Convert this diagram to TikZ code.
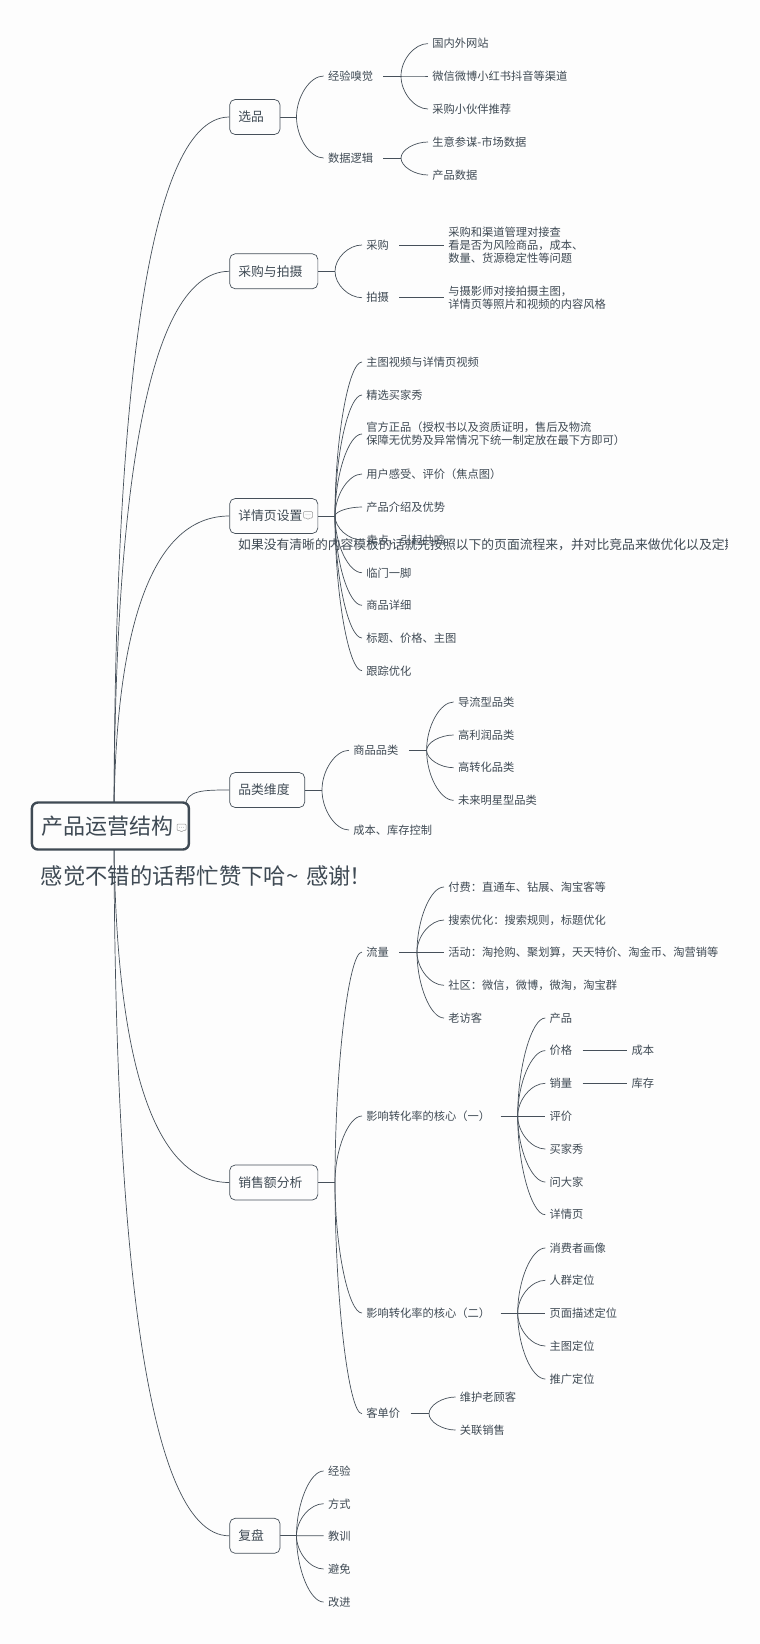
\documentclass[tikz,border=0pt]{standalone}
\usepackage{fontspec}
\setmainfont{Noto Sans CJK SC}
\usetikzlibrary{calc,backgrounds}
\definecolor{ink}{HTML}{3F4A54}
\definecolor{wire}{HTML}{46505A}
\definecolor{paper}{HTML}{FDFDFD}
\tikzset{
  conn/.style={draw=wire,line width=0.7pt},
  topic/.style={draw=wire,line width=0.7pt,fill=paper,rounded corners=5.5pt,anchor=west,
    minimum height=35pt,inner xsep=8.7pt,inner ysep=0pt,align=left,text=ink,
    font=\fontsize{12.8}{15}\selectfont},
  leaf/.style={anchor=west,inner xsep=4.2pt,inner ysep=1pt,align=left,text=ink,
    font=\fontsize{11.25}{13.2}\selectfont},
  rootbox/.style={draw=ink,line width=2.4pt,fill=paper,rounded corners=6pt,anchor=west,
    minimum height=47pt,inner xsep=10pt,inner ysep=0pt,align=left,text=ink,
    font=\fontsize{22}{26}\selectfont},
  bignote/.style={anchor=west,inner sep=0pt,text=ink,font=\fontsize{22.3}{26}\selectfont},
  midnote/.style={anchor=west,inner sep=0pt,text=ink,font=\fontsize{12.8}{15}\selectfont},
  bubble/.style={draw=black!40,line width=0.5pt,fill=paper,rounded corners=1pt}
}
\newcommand\leaf[4]{\node[leaf] (#1) at (#2,#3) {#4};}
\newcommand\kid[2]{\draw[conn] (#1) .. controls ($(#1)!.5!(#1|-#2.west)$) and ($(#2.west)!.5!(#1|-#2.west)$) .. (#2.west);}
\newcommand\limb[2]{\draw[conn] (rootpin) .. controls +(0,#2) and +(-89,0) .. (#1.west);}
\newcommand\bubbleat[2]{\draw[bubble] (#1,#2) -- ++(9,0) -- ++(0,6.5) -- ++(-3.5,0) -- ++(-1,2) -- ++(-1,-2) -- ++(-3.5,0) -- cycle;
  \fill[black!40] (#1+2.5,#2+3.2) circle (.4) (#1+4.5,#2+3.2) circle (.4) (#1+6.5,#2+3.2) circle (.4);}
\begin{document}
\begin{tikzpicture}[x=1pt,y=-1pt]
\useasboundingbox (0,0) rectangle (760,1644);

% root and topics
\node[rootbox,text width=137pt] (root) at (30.7,826) {产品运营结构};
\node[bignote] (thanks) at (40.6,876) {感觉不错的话帮忙赞下哈\char`~\hspace{3pt} 感谢\hspace{-2pt}！};
\node[topic,text width=33pt] (t1) at (229.3,117) {选品};
\node[topic,text width=70.8pt] (t2) at (229.3,271.3) {采购与拍摄};
\node[topic,text width=70.8pt] (t3) at (229.3,516) {详情页设置};
\node[topic,text width=57.7pt] (t4) at (229.3,790) {品类维度};
\node[topic,text width=70.8pt] (t5) at (229.3,1182.5) {销售额分析};
\node[topic,text width=33pt] (t6) at (229.3,1535.8) {复盘};

\coordinate (rootpin) at (114,826);
\coordinate (rootside) at (185.7,806);

% 选品
\leaf{a1}{323.6}{76}{经验嗅觉}
\leaf{a2}{323.6}{158}{数据逻辑}
\leaf{a11}{428}{43.6}{国内外网站}
\leaf{a12}{428}{76}{微信微博小红书抖音等渠道}
\leaf{a13}{428}{109}{采购小伙伴推荐}
\leaf{a21}{428}{142}{生意参谋-市场数据}
\leaf{a22}{428}{175}{产品数据}
\coordinate (ha) at (296.5,117);
\coordinate (ha1) at (401,76);
\coordinate (ha2) at (401,158);

% 采购与拍摄
\leaf{b1}{362}{245}{采购}
\leaf{b2}{362}{297.7}{拍摄}
\leaf{b11}{444}{245}{采购和渠道管理对接查\\看是否为风险商品，成本、\\数量、货源稳定性等问题}
\leaf{b21}{444}{297.7}{与摄影师对接拍摄主图，\\详情页等照片和视频的内容风格}
\coordinate (hb) at (335,271.3);

% 详情页设置
\leaf{c1}{362}{362}{主图视频与详情页视频}
\leaf{c2}{362}{395}{精选买家秀}
\leaf{c3}{362}{434}{官方正品（授权书以及资质证明，售后及物流\\保障无优势及异常情况下统一制定放在最下方即可）}
\leaf{c4}{362}{474}{用户感受、评价（焦点图）}
\leaf{c5}{362}{507}{产品介绍及优势}
\leaf{c6}{362}{540}{卖点、引起共鸣}
\leaf{c7}{362}{572.7}{临门一脚}
\leaf{c8}{362}{605.3}{商品详细}
\leaf{c9}{362}{638}{标题、价格、主图}
\leaf{c10}{362}{670.7}{跟踪优化}
\coordinate (hc) at (335,516);
\begin{scope}
  \clip (0,0) rectangle (727,1644);
  \node[midnote] (cnote) at (238,545) {如果没有清晰的内容模板的话就先按照以下的页面流程来，并对比竞品来做优化以及定期};
\end{scope}

% 品类维度
\leaf{d1}{349}{750.3}{商品品类}
\leaf{d2}{349}{830}{成本、库存控制}
\leaf{d11}{453.6}{702}{导流型品类}
\leaf{d12}{453.6}{735}{高利润品类}
\leaf{d13}{453.6}{767.7}{高转化品类}
\leaf{d14}{453.6}{800.3}{未来明星型品类}
\coordinate (hd) at (322,790);
\coordinate (hd1) at (426.6,750.3);

% 销售额分析
\leaf{e1}{362}{952}{流量}
\leaf{e2}{362}{1116}{影响转化率的核心（一）}
\leaf{e3}{362}{1313}{影响转化率的核心（二）}
\leaf{e4}{362}{1413.7}{客单价}
\leaf{e11}{444}{887}{付费：直通车、钻展、淘宝客等}
\leaf{e12}{444}{920}{搜索优化：搜索规则，标题优化}
\leaf{e13}{444}{952}{活动：淘抢购、聚划算，天天特价、淘金币、淘营销等}
\leaf{e14}{444}{985.3}{社区：微信，微博，微淘，淘宝群}
\leaf{e15}{444}{1018}{老访客}
\leaf{e21}{545.3}{1018}{产品}
\leaf{e22}{545.3}{1050.6}{价格}
\leaf{e23}{545.3}{1083.3}{销量}
\leaf{e24}{545.3}{1116}{评价}
\leaf{e25}{545.3}{1149}{买家秀}
\leaf{e26}{545.3}{1182}{问大家}
\leaf{e27}{545.3}{1214.7}{详情页}
\leaf{e221}{627.2}{1050.6}{成本}
\leaf{e231}{627.2}{1083.3}{库存}
\leaf{e31}{545.3}{1248}{消费者画像}
\leaf{e32}{545.3}{1280.3}{人群定位}
\leaf{e33}{545.3}{1313}{页面描述定位}
\leaf{e34}{545.3}{1346}{主图定位}
\leaf{e35}{545.3}{1379}{推广定位}
\leaf{e41}{455.5}{1397}{维护老顾客}
\leaf{e42}{455.5}{1430}{关联销售}
\coordinate (he) at (335,1182.5);
\coordinate (he1) at (417,952);
\coordinate (he2) at (517.7,1116);
\coordinate (he3) at (517.7,1313);
\coordinate (he4) at (429,1413.7);

% 复盘
\leaf{f1}{323.6}{1471}{经验}
\leaf{f2}{323.6}{1503.7}{方式}
\leaf{f3}{323.6}{1535.8}{教训}
\leaf{f4}{323.6}{1569}{避免}
\leaf{f5}{323.6}{1602}{改进}
\coordinate (hf) at (296.5,1535.8);

% note markers
\bubbleat{177}{824}
\bubbleat{303.5}{511.5}

\begin{scope}[on background layer]
  \fill[paper] (0,0) rectangle (760,1644);
  % main limbs
  \limb{t1}{-376}
  \limb{t2}{-294}
  \limb{t3}{-164}
  \limb{t5}{189}
  \limb{t6}{376}
  \draw[conn] (rootside) .. controls +(0,-16) and +(-25,0) .. (t4.west);
  % 选品
  \draw[conn] (t1.east) -- (ha);
  \kid{ha}{a1}\kid{ha}{a2}
  \draw[conn] ([xshift=6pt]a1.east) -- (ha1);
  \kid{ha1}{a11}\kid{ha1}{a12}\kid{ha1}{a13}
  \draw[conn] ([xshift=6pt]a2.east) -- (ha2);
  \kid{ha2}{a21}\kid{ha2}{a22}
  % 采购与拍摄
  \draw[conn] (t2.east) -- (hb);
  \kid{hb}{b1}\kid{hb}{b2}
  \draw[conn] ([xshift=6pt]b1.east) -- (b11.west);
  \draw[conn] ([xshift=6pt]b2.east) -- (b21.west);
  % 详情页设置
  \draw[conn] (t3.east) -- (hc);
  \kid{hc}{c1}\kid{hc}{c2}\kid{hc}{c3}\kid{hc}{c4}\kid{hc}{c5}
  \kid{hc}{c6}\kid{hc}{c7}\kid{hc}{c8}\kid{hc}{c9}\kid{hc}{c10}
  % 品类维度
  \draw[conn] (t4.east) -- (hd);
  \kid{hd}{d1}\kid{hd}{d2}
  \draw[conn] ([xshift=6pt]d1.east) -- (hd1);
  \kid{hd1}{d11}\kid{hd1}{d12}\kid{hd1}{d13}\kid{hd1}{d14}
  % 销售额分析
  \draw[conn] (t5.east) -- (he);
  \kid{he}{e1}\kid{he}{e2}\kid{he}{e3}\kid{he}{e4}
  \draw[conn] ([xshift=6pt]e1.east) -- (he1);
  \kid{he1}{e11}\kid{he1}{e12}\kid{he1}{e13}\kid{he1}{e14}\kid{he1}{e15}
  \draw[conn] ([xshift=6pt]e2.east) -- (he2);
  \kid{he2}{e21}\kid{he2}{e22}\kid{he2}{e23}\kid{he2}{e24}\kid{he2}{e25}\kid{he2}{e26}\kid{he2}{e27}
  \draw[conn] ([xshift=6pt]e22.east) -- (e221.west);
  \draw[conn] ([xshift=6pt]e23.east) -- (e231.west);
  \draw[conn] ([xshift=6pt]e3.east) -- (he3);
  \kid{he3}{e31}\kid{he3}{e32}\kid{he3}{e33}\kid{he3}{e34}\kid{he3}{e35}
  \draw[conn] ([xshift=6pt]e4.east) -- (he4);
  \kid{he4}{e41}\kid{he4}{e42}
  % 复盘
  \draw[conn] (t6.east) -- (hf);
  \kid{hf}{f1}\kid{hf}{f2}\kid{hf}{f3}\kid{hf}{f4}\kid{hf}{f5}
\end{scope}
\end{tikzpicture}
\end{document}
